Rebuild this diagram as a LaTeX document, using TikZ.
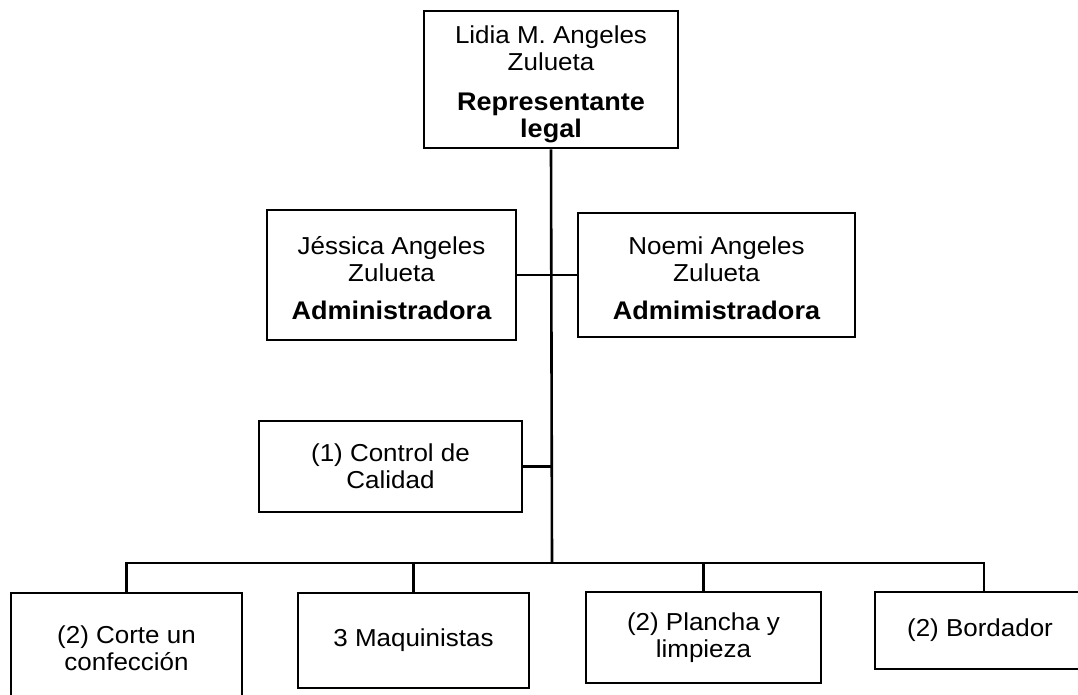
\documentclass[tikz,border=0pt]{standalone}
\usepackage{fontspec}
\setmainfont[FakeStretch=1.06]{Liberation Sans}
\newcommand{\bl}[1]{\textbf{\fontsize{25.5}{27}\selectfont #1}}
\begin{document}
\begin{tikzpicture}[x=1pt,y=-1pt,
  box/.style={draw, line width=2.6pt, inner sep=0pt, align=center,
    font=\fontsize{24.5}{27}\selectfont},
  conn/.style={line width=2.6pt}]
\useasboundingbox (0,0) rectangle (1078,695);
\begin{scope}
\clip (0,0) rectangle (1078,695);
\node[box, minimum width=254pt, minimum height=137pt] (top) at (551,79.5)
  {\rule{0pt}{27pt}Lidia M. Angeles\\Zulueta\\[13pt]\bl{Representante}\\\bl{legal}};
\node[box, minimum width=249pt, minimum height=130pt] (jes) at (391.5,275)
  {\rule{0pt}{24pt}Jéssica Angeles\\Zulueta\\[11pt]\bl{Administradora}};
\node[box, minimum width=277pt, minimum height=124pt] (noe) at (716.5,275)
  {\rule{0pt}{24pt}Noemi Angeles\\Zulueta\\[11pt]\bl{Admimistradora}};
\node[box, minimum width=263pt, minimum height=91pt] (ctrl) at (390.5,466.5)
  {(1) Control de\\Calidad};
\node[box, minimum width=231pt, minimum height=110pt] (b1) at (126.5,648)
  {(2) Corte un\\confección};
\node[box, minimum width=231pt, minimum height=95pt] (b2) at (413.5,640.5)
  {3 Maquinistas};
\node[box, minimum width=235pt, minimum height=91pt] (b3) at (703.5,637.5)
  {(2) Plancha y\\limpieza};
\node[box, minimum width=210pt, minimum height=77pt] (b4) at (980,630.5)
  {(2) Bordador};
\coordinate (bus) at (552,563);
\coordinate (d4) at (984,563);
\draw[conn] (top.south) -- (bus);
\draw[conn] (jes.east) -- (noe.west);
\draw[conn] (ctrl.east) -- (ctrl.east -| bus);
\draw[conn] (b1.north) -- (b1.north |- bus) -- (d4) -- (d4 |- b4.north);
\draw[conn] (b2.north) -- (b2.north |- bus);
\draw[conn] (b3.north) -- (b3.north |- bus);
\end{scope}
\end{tikzpicture}
\end{document}
